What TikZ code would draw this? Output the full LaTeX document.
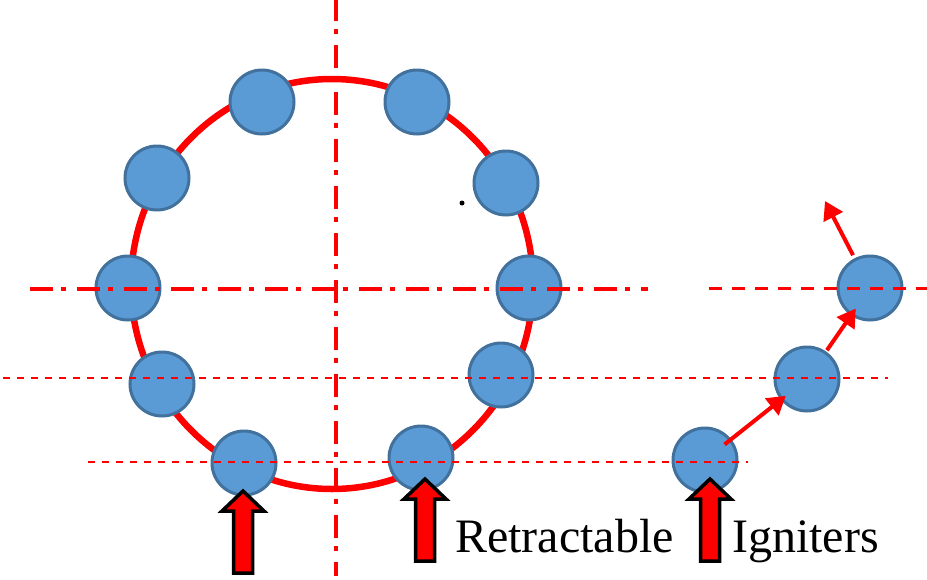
\documentclass[tikz,border=0pt]{standalone}
\usepackage{fontspec}
\setmainfont{Liberation Serif}
\usetikzlibrary{arrows.meta}
\definecolor{ringred}{HTML}{FF0000}
\definecolor{ballfill}{HTML}{5B9BD5}
\definecolor{ballline}{HTML}{41719C}
\begin{document}
\begin{tikzpicture}[x=1pt,y=-1pt,
  ball/.style={circle,minimum size=64pt,inner sep=0pt,fill=ballfill,draw=ballline,line width=3pt},
  axisline/.style={draw=ringred,line width=4pt,dash pattern=on 23pt off 8pt on 5pt off 11pt},
  thinline/.style={draw=ringred,line width=2pt,dash pattern=on 7pt off 7pt},
  midline/.style={draw=ringred,line width=3pt,dash pattern=on 13pt off 10pt},
  ringline/.style={draw=ringred,line width=6.5pt},
  moveline/.style={draw=ringred,line width=4pt,-{Triangle[length=18pt,width=21pt]}},
  lab/.style={anchor=base west,inner sep=0pt,font=\rmfamily\fontsize{48}{56}\selectfont},
  blockarrow/.pic={\draw[fill=ringred,draw=black,line width=3.5pt,miter limit=4]
     (0,2) -- (21,22) -- (9.5,22) -- (9.5,84) -- (-9.5,84) -- (-9.5,22) -- (-21,22) -- cycle;}
]
\useasboundingbox (0,0) rectangle (927,579);
% ring
\draw[ringline] (332,284) ellipse [x radius=201pt, y radius=205pt];
% balls on ring
\node[ball] (b1) at (262,102) {};
\node[ball] (b2) at (417,102) {};
\node[ball] (b3) at (157,178) {};
\node[ball] (b4) at (506,183) {};
\node[ball] (b5) at (128,288) {};
\node[ball] (b6) at (529,288) {};
\node[ball] (b7) at (162,384) {};
\node[ball] (b8) at (501,375) {};
\node[ball] (b9) at (244,463) {};
\node[ball] (b10) at (421,458) {};
% right group
\node[ball] (ra) at (705,460) {};
\node[ball] (rb) at (807,379) {};
\node[ball] (rc) at (870,288) {};
% axis lines
\draw[axisline,dash phase=2pt] (336,0) -- (336,576);
\draw[axisline] (30,289) -- (648,289);
\draw[midline] (709,288) -- (927,288);
\draw[thinline] (3,378) -- (888,378);
\draw[thinline] (88,462) -- (748,462);
% small dot
\fill (462,203) circle [radius=2.5pt];
% motion arrows
\coordinate (outp) at (825,201);
\draw[moveline,shorten <=25pt,shorten >=27pt] (ra.center) -- (rb.center);
\draw[moveline,shorten <=35pt,shorten >=25pt] (rb.center) -- (rc.center);
\draw[moveline,shorten <=37pt] (rc.center) -- (outp);
% block arrows
\pic (arr1) at (243,489) {blockarrow};
\pic (arr2) at (425,477) {blockarrow};
\pic (arr3) at (710,477) {blockarrow};
% labels
\node[lab] (t1) at (455,552) {Retractable};
\node[lab] (t2) at (732,552) {Igniters};
\end{tikzpicture}
\end{document}
